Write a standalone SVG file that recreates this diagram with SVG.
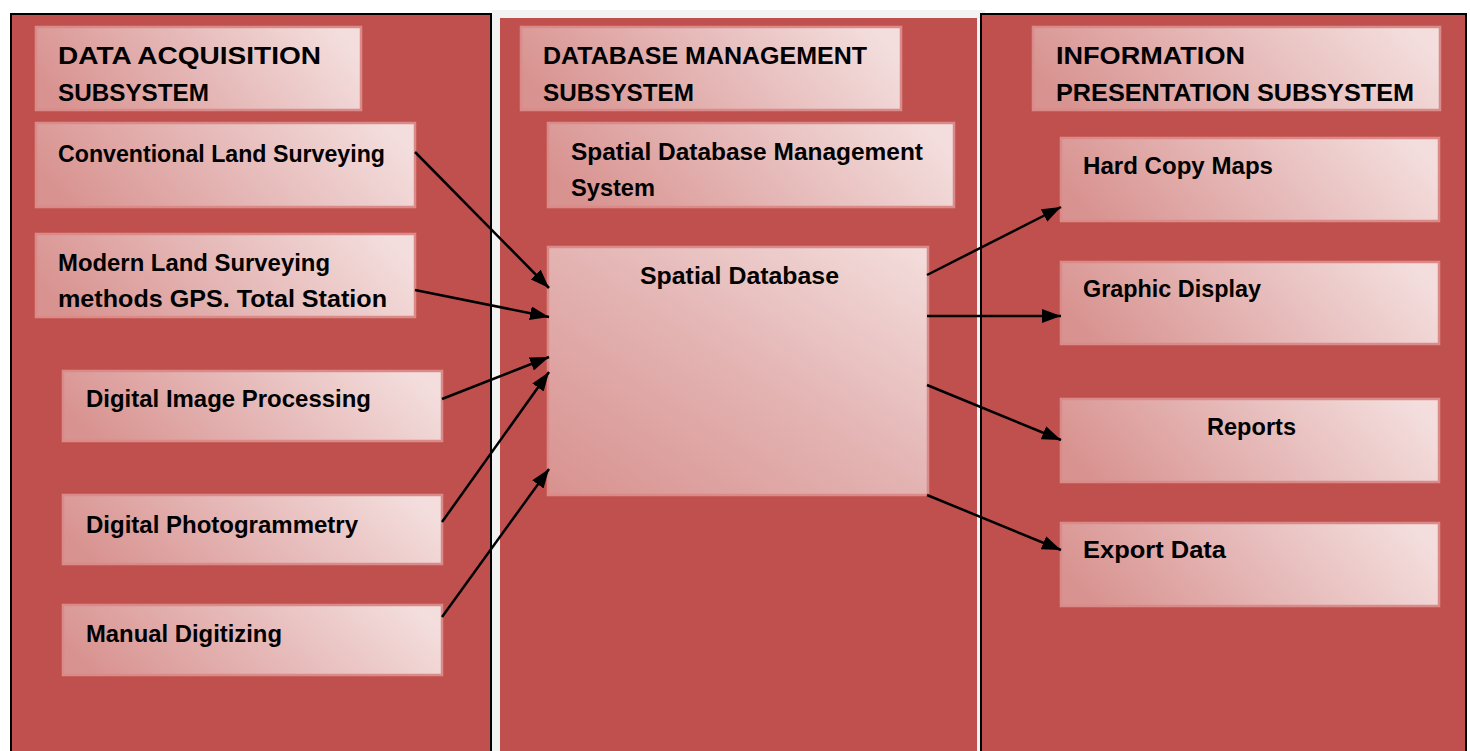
<svg xmlns="http://www.w3.org/2000/svg" width="1470" height="751" viewBox="0 0 1470 751">
<defs>
<linearGradient id="bx" x1="0" y1="0.6" x2="1" y2="0.4">
<stop offset="0" stop-color="#D8928F"/>
<stop offset="0.5" stop-color="#E5B8B7"/>
<stop offset="1" stop-color="#F3DEDD"/>
</linearGradient>
<linearGradient id="bxd" x1="0" y1="1" x2="1" y2="0">
<stop offset="0" stop-color="#D8928F"/>
<stop offset="0.5" stop-color="#E3B3B2"/>
<stop offset="1" stop-color="#F3DEDD"/>
</linearGradient>
<marker id="ah" markerUnits="userSpaceOnUse" markerWidth="20" markerHeight="14" refX="19" refY="7" orient="auto">
<path d="M0,0 L19,7 L0,14 z" fill="#000"/>
</marker>
<style>
.panel{fill:#C0504D}
.box{fill:url(#bx);stroke:#DA8B89;stroke-width:2.5}
.big{fill:url(#bxd)}
.t{font-family:"Liberation Sans",Arial,sans-serif;font-weight:bold;font-size:24px;fill:#000}
.c{stroke:#000;stroke-width:2.5;fill:none;marker-end:url(#ah)}
</style>
</defs>
<rect x="0" y="0" width="1470" height="751" fill="#FFFFFF"/>
<g id="panels">
<rect class="panel" x="11" y="14" width="480" height="760" stroke="#000" stroke-width="2"/>
<rect class="panel" x="496" y="14" width="485" height="760" stroke="#F2F2F2" stroke-width="8"/>
<rect class="panel" x="981" y="14" width="485" height="760" stroke="#000" stroke-width="2"/>
</g>
<g id="hdr-acq">
<rect class="box" x="36" y="27" width="325" height="83"/>
<text class="t" x="58" y="64" textLength="263" lengthAdjust="spacingAndGlyphs">DATA ACQUISITION</text>
<text class="t" x="58" y="101" textLength="151" lengthAdjust="spacingAndGlyphs">SUBSYSTEM</text>
</g>
<g id="hdr-dbm">
<rect class="box" x="521" y="27" width="380" height="83"/>
<text class="t" x="543" y="64" textLength="324" lengthAdjust="spacingAndGlyphs">DATABASE MANAGEMENT</text>
<text class="t" x="543" y="101" textLength="151" lengthAdjust="spacingAndGlyphs">SUBSYSTEM</text>
</g>
<g id="hdr-info">
<rect class="box" x="1033" y="27" width="407" height="83"/>
<text class="t" x="1056" y="64" textLength="189" lengthAdjust="spacingAndGlyphs">INFORMATION</text>
<text class="t" x="1056" y="101" textLength="358" lengthAdjust="spacingAndGlyphs">PRESENTATION SUBSYSTEM</text>
</g>
<g id="conventional">
<rect class="box" x="36" y="123" width="379" height="84"/>
<text class="t" x="58" y="162" textLength="327" lengthAdjust="spacingAndGlyphs">Conventional Land Surveying</text>
</g>
<g id="modern">
<rect class="box" x="36" y="234" width="379" height="83"/>
<text class="t" x="58" y="271" textLength="272" lengthAdjust="spacingAndGlyphs">Modern Land Surveying</text>
<text class="t" x="58" y="307" textLength="329" lengthAdjust="spacingAndGlyphs">methods GPS. Total Station</text>
</g>
<g id="dip">
<rect class="box" x="63" y="371" width="379" height="70"/>
<text class="t" x="86" y="407" textLength="285" lengthAdjust="spacingAndGlyphs">Digital Image Processing</text>
</g>
<g id="photogrammetry">
<rect class="box" x="63" y="495" width="379" height="69"/>
<text class="t" x="86" y="533" textLength="272" lengthAdjust="spacingAndGlyphs">Digital Photogrammetry</text>
</g>
<g id="manual">
<rect class="box" x="63" y="605" width="379" height="70"/>
<text class="t" x="86" y="642" textLength="196" lengthAdjust="spacingAndGlyphs">Manual Digitizing</text>
</g>
<g id="sdbms">
<rect class="box" x="548" y="123" width="406" height="84"/>
<text class="t" x="571" y="160" textLength="352" lengthAdjust="spacingAndGlyphs">Spatial Database Management</text>
<text class="t" x="571" y="196" textLength="84" lengthAdjust="spacingAndGlyphs">System</text>
</g>
<g id="sdb">
<rect class="box big" x="548" y="247" width="380" height="248"/>
<text class="t" x="640" y="284" textLength="199" lengthAdjust="spacingAndGlyphs">Spatial Database</text>
</g>
<g id="hardcopy">
<rect class="box" x="1061" y="138" width="378" height="83"/>
<text class="t" x="1083" y="174" textLength="190" lengthAdjust="spacingAndGlyphs">Hard Copy Maps</text>
</g>
<g id="graphic">
<rect class="box" x="1061" y="262" width="378" height="82"/>
<text class="t" x="1083" y="297" textLength="178" lengthAdjust="spacingAndGlyphs">Graphic Display</text>
</g>
<g id="reports">
<rect class="box" x="1061" y="399" width="378" height="83"/>
<text class="t" x="1207" y="435" textLength="89" lengthAdjust="spacingAndGlyphs">Reports</text>
</g>
<g id="export">
<rect class="box" x="1061" y="523" width="378" height="83"/>
<text class="t" x="1083" y="558" textLength="143" lengthAdjust="spacingAndGlyphs">Export Data</text>
</g>
<g id="connectors">
<line class="c" x1="415" y1="152" x2="549" y2="288"/>
<line class="c" x1="415" y1="290" x2="549" y2="317"/>
<line class="c" x1="442" y1="399" x2="549" y2="357"/>
<line class="c" x1="442" y1="522" x2="549" y2="372"/>
<line class="c" x1="442" y1="617" x2="549" y2="469"/>
<line class="c" x1="927" y1="275" x2="1061" y2="207"/>
<line class="c" x1="927" y1="316" x2="1061" y2="316"/>
<line class="c" x1="927" y1="385" x2="1061" y2="440"/>
<line class="c" x1="927" y1="495" x2="1061" y2="550"/>
</g>
</svg>
